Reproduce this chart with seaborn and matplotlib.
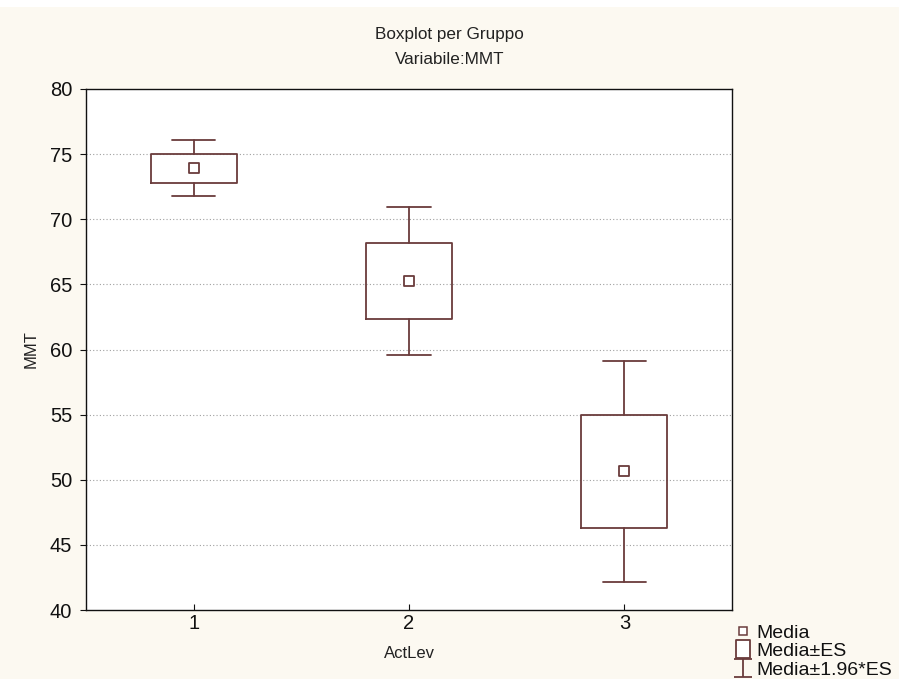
import matplotlib
matplotlib.use("Agg")
import matplotlib.pyplot as plt
from matplotlib.lines import Line2D
from matplotlib.path import Path
from matplotlib.patches import Rectangle
import seaborn as sns
import pandas as pd

# ---- data ----
groups = [1, 2, 3]
means = [73.92, 65.26, 50.64]
se = [1.10, 2.90, 4.33]
z = 1.96

title_lines = ["Boxplot per Gruppo", "Variabile:MMT"]
xlabel = "ActLev"
ylabel = "MMT"
yticks = [40, 45, 50, 55, 60, 65, 70, 75, 80]

sns.set_theme(style="white")
plt.rcParams["font.family"] = ["Liberation Sans", "DejaVu Sans"]

BG = "#fcf9f1"
C = "#6a3c3c"

fig = plt.figure(figsize=(8.99, 6.79), dpi=100, facecolor=BG)
fig.patches.append(Rectangle((0, 1 - 7 / 679), 1, 7 / 679, transform=fig.transFigure,
                             facecolor="white", edgecolor="none", zorder=0))
ax = fig.add_axes([86 / 899, 1 - 610 / 679, 646 / 899, 521 / 679])
ax.set_facecolor("white")

stats = []
for g, m, s in zip(groups, means, se):
    stats.append(dict(med=m, q1=m - s, q3=m + s, whislo=m - z * s, whishi=m + z * s,
                      fliers=[], label=str(g)))

lw = 1.3
ax.bxp(stats, positions=groups, widths=0.4, capwidths=0.2, showfliers=False,
       patch_artist=False,
       boxprops=dict(color=C, linewidth=lw),
       whiskerprops=dict(color=C, linewidth=lw),
       capprops=dict(color=C, linewidth=lw),
       medianprops=dict(linewidth=0))

df = pd.DataFrame({"g": groups, "mean": means})
sns.scatterplot(data=df, x="g", y="mean", marker="s", s=42, facecolor="white",
                edgecolor=C, linewidth=1.3, ax=ax, zorder=5)

ax.set_xlim(0.5, 3.5)
ax.set_ylim(40, 80)
ax.set_xticks(groups)
ax.set_xticklabels([str(g) for g in groups])
ax.set_yticks(yticks)
for yv in yticks[1:-1]:
    ax.axhline(yv, color="#a0a0a0", linestyle=(0, (1, 2)), linewidth=0.8, zorder=0)

ax.tick_params(axis="y", direction="out", length=4, width=0.8, colors="#111111",
               labelsize=14.5, pad=6, left=True)
ax.tick_params(axis="x", direction="in", length=4, width=0.8, colors="#111111",
               labelsize=14.5, pad=3, bottom=True)
for sp in ax.spines.values():
    sp.set_visible(True)
    sp.set_color("#111111")
    sp.set_linewidth(1.0)

ax.set_xlabel(xlabel, fontsize=12, color="#222222", labelpad=9)
ax.set_ylabel(ylabel, fontsize=12, color="#222222", labelpad=8)

fig.text(0.5, 1 - 35 / 679, title_lines[0], ha="center", va="center", fontsize=12.3, color="#222222")
fig.text(0.5, 1 - 60 / 679, title_lines[1], ha="center", va="center", fontsize=12.3, color="#222222")

ibeam = Path([(-1, 0.95), (1, 0.95), (0, 0.95), (0, -0.95), (-1, -0.95), (1, -0.95)],
             [Path.MOVETO, Path.LINETO, Path.MOVETO, Path.LINETO, Path.MOVETO, Path.LINETO])
rect = Path([(-0.78, -1), (0.78, -1), (0.78, 1), (-0.78, 1), (-0.78, -1)],
            [Path.MOVETO, Path.LINETO, Path.LINETO, Path.LINETO, Path.CLOSEPOLY])
handles = [
    Line2D([], [], linestyle="none", marker="s", markersize=6, markerfacecolor="white",
           markeredgecolor=C, markeredgewidth=1.1),
    Line2D([], [], linestyle="none", marker=rect, markersize=13, markerfacecolor="white",
           markeredgecolor=C, markeredgewidth=1.3),
    Line2D([], [], linestyle="none", marker=ibeam, markersize=13, markerfacecolor="none",
           markeredgecolor=C, markeredgewidth=1.3),
]
labels = ["Media", "Media±ES", "Media±1.96*ES"]
fig.legend(handles, labels, loc="upper left", bbox_to_anchor=(733 / 899, 1 - 624 / 679),
           frameon=False, fontsize=14, handlelength=1.0, handletextpad=0.2,
           labelspacing=0.05, borderpad=0, borderaxespad=0, labelcolor="#111111")

fig.savefig("out.png", dpi=100, facecolor=BG)
